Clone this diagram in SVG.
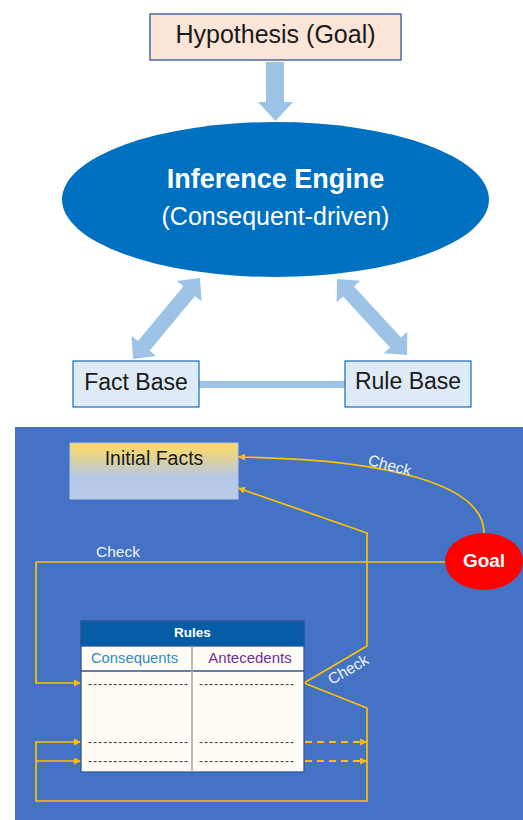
<svg xmlns="http://www.w3.org/2000/svg" width="523" height="820" viewBox="0 0 523 820">
<style>
.t{font-family:"Liberation Sans",Arial,sans-serif}
.blk{fill:#9DC3E6}
.con{fill:none;stroke:#FFC000;stroke-width:1.7}
.dash{fill:none;stroke:#FFC000;stroke-width:2;stroke-dasharray:7 5}
.chk{font-family:"Liberation Sans",Arial,sans-serif;font-size:15.5px;fill:#EEF3FB}
.dl{font-family:"Liberation Sans",Arial,sans-serif;font-size:12px;fill:#404040}
</style>
<defs>
<linearGradient id="gf" x1="0" y1="0" x2="0" y2="1">
<stop offset="0" stop-color="#FFD966"/>
<stop offset="0.08" stop-color="#F8D970"/>
<stop offset="0.62" stop-color="#B4C7E7"/>
<stop offset="1" stop-color="#BCCDEA"/>
</linearGradient>
<marker id="ah" viewBox="0 0 10 10" refX="10" refY="5" markerWidth="7" markerHeight="7" markerUnits="userSpaceOnUse" orient="auto">
<path d="M0,0 L10,5 L0,10 z" fill="#FFC000"/>
</marker>
</defs>
<rect x="0" y="0" width="523" height="820" fill="#FFFFFF"/>

<g id="top-arrows">
<polygon class="blk" points="266,62 284,62 284,102 293,102 275.5,121 258,102 266,102"/>
<polygon class="blk" points="200,278 201.5,301.3 195,295.9 149.6,350.7 156.2,356.1 133,359 131.5,335.7 138,341.1 183.4,286.3 176.8,280.9"/>
<polygon class="blk" points="337,279 360.3,280.7 354,286.4 401,337.4 407.3,331.7 407,355 383.7,353.3 390,347.6 343,296.6 336.7,302.3"/>
<rect class="blk" x="199" y="381" width="146" height="7"/>
</g>

<g id="hypothesis">
<rect x="150" y="14" width="251" height="46" fill="#FBE5D6" stroke="#2F5597" stroke-width="1.3"/>
<text class="t" x="275.5" y="43" font-size="25" text-anchor="middle" fill="#1A1A1A">Hypothesis (Goal)</text>
</g>

<g id="inference-engine">
<ellipse cx="275.5" cy="199.5" rx="213.5" ry="77.5" fill="#0070C0"/>
<text class="t" x="275.5" y="188" font-size="27" font-weight="bold" text-anchor="middle" fill="#FFFFFF">Inference Engine</text>
<text class="t" x="275.5" y="225" font-size="25" text-anchor="middle" fill="#FFFFFF">(Consequent-driven)</text>
</g>

<g id="fact-base">
<rect x="73" y="361" width="126" height="46" fill="#DEEBF7" stroke="#2E75B6" stroke-width="1.3"/>
<text class="t" x="136" y="390" font-size="23" text-anchor="middle" fill="#1A1A1A">Fact Base</text>
</g>

<g id="rule-base">
<rect x="345" y="361" width="126" height="46" fill="#DEEBF7" stroke="#2E75B6" stroke-width="1.3"/>
<text class="t" x="408" y="389" font-size="23" text-anchor="middle" fill="#1A1A1A">Rule Base</text>
</g>

<g id="panel">
<rect x="15" y="427" width="508" height="393" fill="#4472C4"/>
</g>

<g id="connectors">
<path class="con" d="M484,533 C484,485 390,459 238,457" marker-end="url(#ah)"/>
<path class="con" d="M304,683 L367,646 L367,533 L238,488" marker-end="url(#ah)"/>
<path class="con" d="M445,562 L36,562 L36,683 L81,683" marker-end="url(#ah)"/>
<path class="con" d="M304,683 L367,708 L367,801 L36,801 L36,742 L81,742" marker-end="url(#ah)"/>
<path class="con" d="M36,761 L81,761" marker-end="url(#ah)"/>
<path class="dash" d="M305,742 L367,742" marker-end="url(#ah)"/>
<path class="dash" d="M305,761 L367,761" marker-end="url(#ah)"/>
<text class="chk" x="388.5" y="470.4" text-anchor="middle" transform="rotate(15 388.5 470.4)">Check</text>
<text class="chk" x="96" y="557">Check</text>
<text class="chk" x="350.8" y="673.9" text-anchor="middle" transform="rotate(-30 350.8 673.9)">Check</text>
</g>

<g id="initial-facts">
<rect x="70" y="443" width="168" height="56" fill="url(#gf)" stroke="#B4C7E7" stroke-width="1"/>
<text class="t" x="154" y="465" font-size="19.5" text-anchor="middle" fill="#1A1A1A">Initial Facts</text>
</g>

<g id="goal">
<ellipse cx="484" cy="561.5" rx="39" ry="28.5" fill="#FF0000"/>
<text class="t" x="484" y="567" font-size="19" font-weight="bold" text-anchor="middle" fill="#FFFFFF">Goal</text>
</g>

<g id="rules">
<rect x="81" y="621" width="223" height="151" fill="#FFFCF5" stroke="#2F5597" stroke-width="1.3"/>
<rect x="81" y="621" width="223" height="25" fill="#065DA6" stroke="#2F5597" stroke-width="1.3"/>
<line x1="81" y1="671" x2="304" y2="671" stroke="#2F5597" stroke-width="1.3"/>
<line x1="192" y1="646" x2="192" y2="772" stroke="#A6A6A6" stroke-width="1.5"/>
<text class="t" x="192.5" y="637" font-size="13.5" font-weight="bold" text-anchor="middle" fill="#FFFFFF">Rules</text>
<text class="t" x="134.5" y="663" font-size="14.8" text-anchor="middle" fill="#2E8BC9">Consequents</text>
<text class="t" x="250" y="663" font-size="15" text-anchor="middle" fill="#7030A0">Antecedents</text>
<text class="dl" x="88" y="688" textLength="100" lengthAdjust="spacing">--------------------</text>
<text class="dl" x="199" y="688" textLength="95" lengthAdjust="spacing">-------------------</text>
<text class="dl" x="88" y="746" textLength="100" lengthAdjust="spacing">--------------------</text>
<text class="dl" x="199" y="746" textLength="95" lengthAdjust="spacing">-------------------</text>
<text class="dl" x="88" y="765" textLength="100" lengthAdjust="spacing">--------------------</text>
<text class="dl" x="199" y="765" textLength="95" lengthAdjust="spacing">-------------------</text>
</g>
</svg>
